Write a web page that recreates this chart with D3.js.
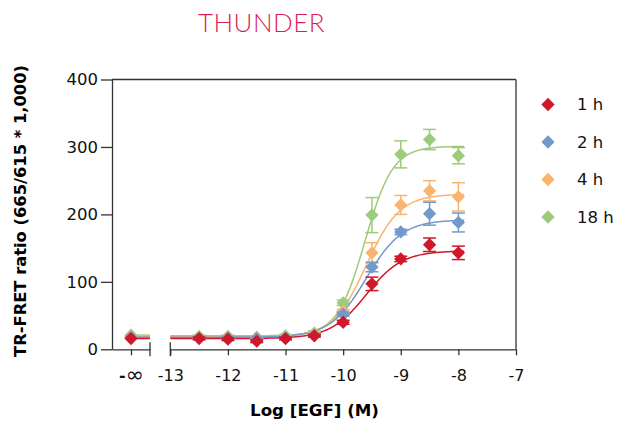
<!DOCTYPE html>
<html>
<head>
<meta charset="utf-8">
<script src="https://cdn.jsdelivr.net/npm/d3@7"></script>
<style>
  html, body { margin: 0; padding: 0; background: #fff; }
  svg { display: block; }
  text { font-family: "DejaVu Sans", sans-serif; fill: #111; }
</style>
</head>
<body>
<svg id="chart" width="617" height="423"></svg>
<script>
// ---------- data ----------
const logDose = [-12.5, -12, -11.5, -11, -10.5, -10, -9.5, -9, -8.5, -8];
const seriesNames = ["1 h", "2 h", "4 h", "18 h"];
const seriesColors = ["#d0182b", "#7399c8", "#f9b46f", "#9dcb79"];

const zeroDose1h = 16, zeroDose2h = 18, zeroDose4h = 19, zeroDose18h = 21;
const values1h  = [16, 15, 12, 16, 20, 40, 97, 134, 155, 143];
const values2h  = [17, 17, 16, 17, 21, 52, 122, 174, 201, 188];
const values4h  = [18, 18, 17, 18, 22, 56, 143, 214, 235, 226];
const values18h = [19, 19, 18, 20, 24, 69, 199, 289, 311, 287];
const err1h  = [2, 2, 2, 2, 2, 3, 10, 4, 10, 10];
const err2h  = [2, 2, 2, 2, 2, 3, 7, 4, 17, 14];
const err4h  = [2, 2, 2, 2, 2, 3, 15, 14, 15, 21];
const err18h = [2, 2, 2, 2, 3, 4, 26, 20, 15, 12];
// fitted 4-parameter logistic curves: [bottom, top, logEC50, hill]
const fit1h  = [16, 146, -9.6, 1.4];
const fit2h  = [18, 192, -9.6, 1.4];
const fit4h  = [18.5, 230, -9.6, 1.5];
const fit18h = [20, 301, -9.62, 1.8];

const xTicks = [-13, -12, -11, -10, -9, -8, -7];
const yTicks = [0, 100, 200, 300, 400];
const zeroLabel = "-∞";

const series = [
  { name: seriesNames[0], color: seriesColors[0], zero: zeroDose1h, vals: values1h, err: err1h, fit: fit1h },
  { name: seriesNames[1], color: seriesColors[1], zero: zeroDose2h, vals: values2h, err: err2h, fit: fit2h },
  { name: seriesNames[2], color: seriesColors[2], zero: zeroDose4h, vals: values4h, err: err4h, fit: fit4h },
  { name: seriesNames[3], color: seriesColors[3], zero: zeroDose18h, vals: values18h, err: err18h, fit: fit18h }
];

// ---------- layout ----------
const svg = d3.select("#chart");
const plotLeft = 112, plotRight = 516, plotTop = 79.5, plotBottom = 349.3;
const seg1Right = 150, seg2Left = 170.3;

const x = d3.scaleLinear().domain([-13, -7]).range([seg2Left, plotRight]);
const x0 = d3.scalePoint().domain([zeroLabel]).range([plotLeft, seg1Right]).padding(0.5);
const y = d3.scaleLinear().domain([0, 400]).range([plotBottom, plotTop]);

function fitText(sel, target) {
  const n = sel.node();
  const fs = parseFloat(sel.attr("font-size"));
  const w = n.getComputedTextLength();
  sel.attr("font-size", (fs * target / w).toFixed(2));
}

// title
const title = svg.append("text")
  .attr("x", 261.5).attr("y", 32)
  .attr("text-anchor", "middle")
  .attr("font-size", 28)
  .style("font-family", "Lato, 'Open Sans', sans-serif")
  .style("font-weight", 300)
  .style("fill", "#dc1f55")
  .style("letter-spacing", "0.5px")
  .text("THUNDER");
fitText(title, 127);

// frame (top + right)
svg.append("line").attr("x1", plotLeft).attr("x2", plotRight).attr("y1", plotTop).attr("y2", plotTop)
  .attr("stroke", "#333").attr("stroke-width", 1.3);
svg.append("line").attr("x1", plotRight).attr("x2", plotRight).attr("y1", plotTop).attr("y2", plotBottom)
  .attr("stroke", "#333").attr("stroke-width", 1.3);

// y axis
const yAxis = svg.append("g")
  .attr("transform", `translate(${plotLeft},0)`)
  .call(d3.axisLeft(y).tickValues(yTicks).tickSize(11).tickSizeOuter(0).tickPadding(3));
yAxis.select(".domain").attr("stroke", "#333").attr("stroke-width", 1.3);
yAxis.selectAll(".tick line").attr("stroke", "#333").attr("stroke-width", 1.3);
yAxis.selectAll("text").attr("font-size", 16.5).style("font-family", "'DejaVu Sans', sans-serif").attr("fill", "#111");

// x axis, main segment
const xAxis = svg.append("g")
  .attr("transform", `translate(0,${plotBottom})`)
  .call(d3.axisBottom(x).tickValues(xTicks).tickSize(6).tickSizeOuter(0).tickPadding(14).tickFormat(d3.format("d")));
xAxis.select(".domain").attr("stroke", "#333").attr("stroke-width", 1.3);
xAxis.selectAll(".tick line").attr("stroke", "#333").attr("stroke-width", 1.3);
xAxis.selectAll("text").attr("font-size", 16).style("font-family", "'DejaVu Sans', sans-serif").attr("fill", "#111")
  .text(d => d3.format("d")(d).replace("−", "-"));

// x axis, -inf segment
const xAxis0 = svg.append("g")
  .attr("transform", `translate(0,${plotBottom})`)
  .call(d3.axisBottom(x0).tickSize(6).tickSizeOuter(0).tickPadding(14));
xAxis0.select(".domain").attr("stroke", "#333").attr("stroke-width", 1.3);
xAxis0.selectAll(".tick line").attr("stroke", "#333").attr("stroke-width", 1.3);
xAxis0.selectAll("text").each(function (d) {
  const t = d3.select(this).text("").attr("font-size", 16)
    .style("font-family", "'DejaVu Sans', sans-serif").attr("fill", "#111");
  t.append("tspan").style("font-weight", "bold").text(d.charAt(0));
  t.append("tspan").attr("font-size", 22).attr("dy", "0.04em").text(d.slice(1));
});

// break ticks
[seg1Right, seg2Left].forEach(px => {
  svg.append("line").attr("x1", px).attr("x2", px).attr("y1", plotBottom - 7).attr("y2", plotBottom + 7)
    .attr("stroke", "#333").attr("stroke-width", 1.3);
});

// axis titles
const xTitle = svg.append("text")
  .attr("x", 314.5).attr("y", 416)
  .attr("text-anchor", "middle")
  .attr("font-size", 16)
  .style("font-weight", "bold")
  .style("fill", "#000")
  .text("Log [EGF] (M)");
fitText(xTitle, 129);

const yTitle = svg.append("text")
  .attr("transform", "translate(26,211) rotate(-90)")
  .attr("text-anchor", "middle")
  .attr("font-size", 16)
  .style("font-weight", "bold")
  .style("fill", "#000")
  .text("TR-FRET ratio (665/615 * 1,000)");
fitText(yTitle, 292);

// ---------- marks ----------
const logistic = (p, lx) => p[0] + (p[1] - p[0]) / (1 + Math.pow(10, (p[2] - lx) * p[3]));
const curveXs = d3.range(-13, -7.9 + 1e-9, 0.02);
const line = d3.line().x(d => x(d[0])).y(d => y(d[1]));
const diamond = d3.symbol().type(d3.symbolDiamond2 || d3.symbolDiamond).size(112);

const drawOrder = [3, 2, 1, 0];
// curves
drawOrder.forEach(i => {
  const s = series[i];
  svg.append("path")
    .attr("d", line(curveXs.map(lx => [lx, logistic(s.fit, lx)])))
    .attr("fill", "none").attr("stroke", s.color).attr("stroke-width", 1.5);
  svg.append("line")
    .attr("x1", x0(zeroLabel)).attr("x2", seg1Right)
    .attr("y1", y(s.zero)).attr("y2", y(s.zero))
    .attr("stroke", s.color).attr("stroke-width", 1.5);
});
// error bars + markers
const capHalf = 6.5;
drawOrder.forEach(i => {
  const s = series[i];
  const g = svg.append("g");
  const pts = logDose.map((ld, j) => ({ px: x(ld), v: s.vals[j], e: s.err[j] }));
  pts.forEach(p => {
    const y1 = y(p.v + p.e), y2 = y(p.v - p.e);
    g.append("line").attr("x1", p.px).attr("x2", p.px).attr("y1", y1).attr("y2", y2)
      .attr("stroke", s.color).attr("stroke-width", 1.5);
    [y1, y2].forEach(yy => g.append("line").attr("x1", p.px - capHalf).attr("x2", p.px + capHalf)
      .attr("y1", yy).attr("y2", yy).attr("stroke", s.color).attr("stroke-width", 1.5));
  });
  g.append("path").attr("d", diamond())
    .attr("transform", `translate(${x0(zeroLabel)},${y(s.zero)})`).attr("fill", s.color);
  pts.forEach(p => {
    g.append("path").attr("d", diamond())
      .attr("transform", `translate(${p.px},${y(p.v)})`).attr("fill", s.color);
  });
});

// legend
const legend = svg.append("g");
series.forEach((s, i) => {
  const ly = 104.5 + i * 37.5;
  legend.append("path").attr("d", diamond()).attr("transform", `translate(548,${ly})`).attr("fill", s.color);
  legend.append("text").attr("x", 577).attr("y", ly).attr("dy", "0.36em")
    .attr("font-size", 16.5).text(s.name);
});
</script>
</body>
</html>
